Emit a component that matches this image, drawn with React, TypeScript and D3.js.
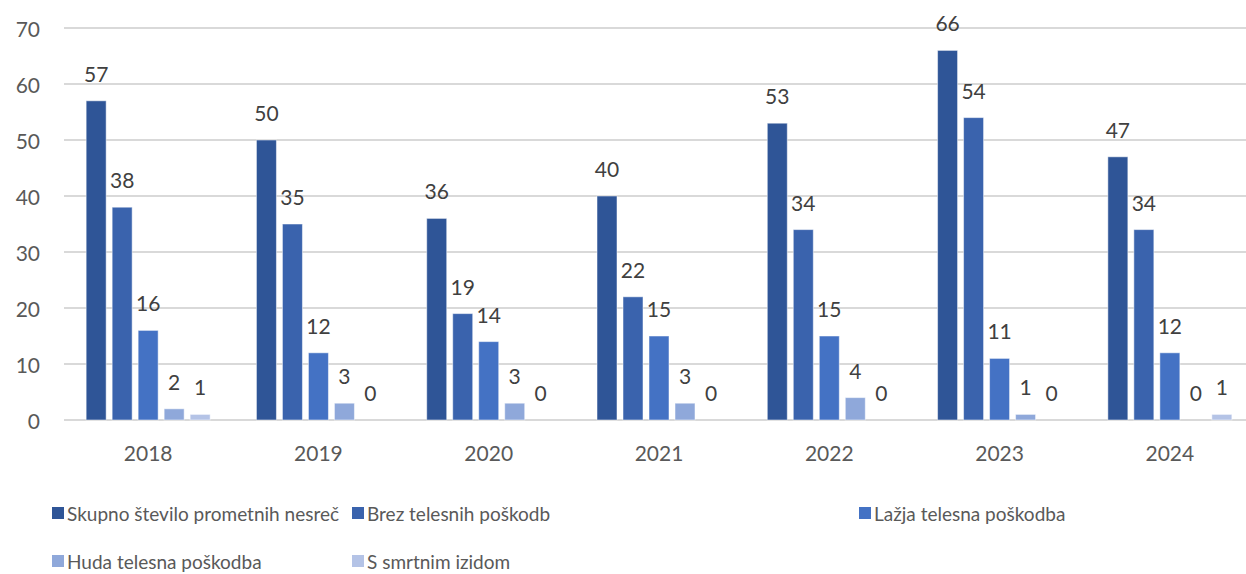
import React, { useEffect, useRef } from 'react';
import * as d3 from 'd3';

const years = ['2018', '2019', '2020', '2021', '2022', '2023', '2024'];
const series = [
  'Skupno število prometnih nesreč',
  'Brez telesnih poškodb',
  'Lažja telesna poškodba',
  'Huda telesna poškodba',
  'S smrtnim izidom',
];
const skupno = [57, 50, 36, 40, 53, 66, 47];
const brez = [38, 35, 19, 22, 34, 54, 34];
const lazja = [16, 12, 14, 15, 15, 11, 12];
const huda = [2, 3, 3, 3, 4, 1, 0];
const smrt = [1, 0, 0, 0, 0, 0, 1];
const yTicks = [0, 10, 20, 30, 40, 50, 60, 70];
const colors = ['#2F5597', '#3A63AD', '#4472C4', '#8FA8DA', '#B4C3E6'];

export default function App() {
  const ref = useRef<SVGSVGElement | null>(null);

  useEffect(() => {
    document.body.style.margin = '0';
    const width = 1246;
    const svg = d3.select(ref.current);
    svg.selectAll('*').remove();
    const font = 'Lato, sans-serif';
    const textColor = '#595959';

    const values = [skupno, brez, lazja, huda, smrt];
    const x = d3.scaleBand().domain(years).range([63, 1255]);
    const xs = d3.scaleBand().domain(series).range([-62, 62]).paddingInner(6 / 26);
    const y = d3.scaleLinear().domain([0, 70]).range([420, 28]);

    // gridlines
    svg.append('g').selectAll('line').data(yTicks).enter().append('line')
      .attr('x1', 64).attr('x2', width)
      .attr('y1', d => y(d)).attr('y2', d => y(d))
      .attr('stroke', '#d9d9d9').attr('stroke-width', 2);

    svg.append('g').selectAll('text').data(yTicks).enter().append('text')
      .attr('x', 40).attr('y', d => y(d))
      .attr('text-anchor', 'end').attr('dominant-baseline', 'central')
      .style('font-family', font).style('font-size', '21px').attr('fill', textColor)
      .text(d => d);

    svg.append('g').selectAll('text').data(years).enter().append('text')
      .attr('x', d => x(d)! + x.bandwidth() / 2).attr('y', 461)
      .attr('text-anchor', 'middle')
      .style('font-family', font).style('font-size', '21px').attr('fill', textColor)
      .text(d => d);

    const data = years.flatMap((yr, i) => series.map((s, j) => ({ yr, s, j, v: values[j][i] })));
    const cx = (d: any) => x(d.yr)! + x.bandwidth() / 2 + xs(d.s)!;

    svg.append('g').selectAll('rect').data(data.filter(d => d.v > 0)).enter().append('rect')
      .attr('x', cx).attr('y', d => y(d.v))
      .attr('width', xs.bandwidth()).attr('height', d => 420 - y(d.v))
      .attr('fill', d => colors[d.j])
      .attr('stroke', '#ffffff').attr('stroke-opacity', 0.5).attr('stroke-width', 1);

    svg.append('g').selectAll('text').data(data).enter().append('text')
      .attr('x', d => cx(d) + xs.bandwidth() / 2).attr('y', d => y(d.v) - 19)
      .attr('text-anchor', 'middle')
      .style('font-family', font).style('font-size', '21px').attr('fill', '#404040')
      .text(d => d.v);

    // legend
    const legendPos = [[52, 513], [352, 513], [859, 513], [52, 561], [352, 561]];
    const lg = svg.append('g').selectAll('g').data(series).enter().append('g')
      .attr('transform', (d, i) => `translate(${legendPos[i][0]},${legendPos[i][1]})`);
    lg.append('rect').attr('x', 0).attr('y', -6).attr('width', 12).attr('height', 12)
      .attr('fill', (d, i) => colors[i]);
    lg.append('text').attr('x', 15).attr('y', 0).attr('dominant-baseline', 'central')
      .style('font-family', font).style('font-size', '19px').attr('fill', textColor)
      .text(d => d);
  }, []);

  return <svg ref={ref} width={1246} height={574} style={{ display: 'block' }} />;
}
